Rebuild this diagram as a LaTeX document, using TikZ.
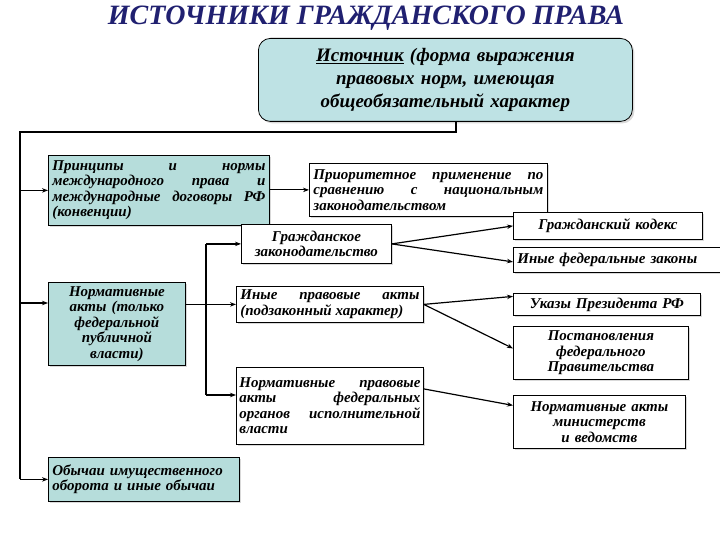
\documentclass[tikz,border=0pt]{standalone}
\usepackage{fontspec}
\setmainfont{Liberation Serif}
\usetikzlibrary{arrows.meta,shadows}
\definecolor{tealf}{RGB}{182,221,219}
\definecolor{tealtop}{RGB}{190,226,228}
\definecolor{navy}{RGB}{32,32,112}
\hyphenpenalty=10000
\exhyphenpenalty=10000
\begin{document}
\begin{tikzpicture}[x=1pt,y=-1pt,
  box/.style={draw=black, line width=0.8pt, anchor=north west, fill=white,
    inner xsep=4pt, inner ysep=2pt,
    font=\bfseries\itshape\fontsize{15}{15.5}\selectfont,
    drop shadow={shadow xshift=2pt,shadow yshift=-2pt,opacity=0.3}},
  tbox/.style={box, fill=tealf},
  arr/.style={line width=1.2pt, -{Stealth[length=6pt,width=4.5pt]}},
  ln/.style={line width=1.2pt}]
\useasboundingbox (0,0) rectangle (720,540);
% title
\node[text=navy, anchor=base, inner sep=0pt, font=\bfseries\itshape\fontsize{28}{30}\selectfont] (title) at (366,25)
  {ИСТОЧНИКИ ГРАЖДАНСКОГО ПРАВА};
% top box
\node[box, fill=tealtop, rounded corners=12pt, minimum width=374pt, minimum height=83pt,
  text width=366pt, align=center, font=\bfseries\itshape\fontsize{19}{23}\selectfont] (src) at (258,38)
  {\underline{Источник} (форма выражения\\правовых норм, имеющая\\общеобязательный характер};
% left column
\node[tbox, minimum width=221pt, minimum height=70pt, text width=213pt, align=justify] (P) at (48,155)
  {Принципы и нормы\linebreak международного права и\linebreak международные договоры РФ\linebreak (конвенции)};
\node[tbox, minimum width=137pt, minimum height=83pt, text width=129pt, align=center] (NA) at (48,282)
  {Нормативные\\акты (только\\федеральной\\публичной\\власти)};
\node[tbox, minimum width=191pt, minimum height=44pt, text width=183pt, align=left] (Ob) at (48,457)
  {Обычаи имущественного\\оборота и иные обычаи};
% middle column
\node[box, minimum width=238pt, minimum height=53pt, text width=230pt, align=justify] (Pri) at (309,163)
  {Приоритетное применение по\linebreak сравнению с национальным\linebreak законодательством};
\node[box, minimum width=150pt, minimum height=39pt, text width=142pt, align=center] (GZ) at (241,224)
  {Гражданское\\законодательство};
\node[box, minimum width=187pt, minimum height=36pt, text width=179pt, align=justify] (IPA) at (236,286)
  {Иные правовые акты\linebreak (подзаконный характер)};
\node[box, minimum width=187pt, minimum height=77pt, text width=181pt, inner xsep=3pt, align=justify] (NPA) at (236,367)
  {Нормативные правовые\linebreak акты федеральных\linebreak органов исполнительной\linebreak власти};
% right column
\node[box, minimum width=189pt, minimum height=27pt, text width=181pt, align=center] (GK) at (513,212)
  {Гражданский кодекс};
\node[box, minimum width=215pt, minimum height=25pt, text width=207pt, align=left] (IFZ) at (513,247)
  {Иные федеральные законы};
\node[box, minimum width=187pt, minimum height=22pt, text width=179pt, align=center] (UP) at (513,293)
  {Указы Президента РФ};
\node[box, minimum width=175pt, minimum height=53pt, text width=167pt, align=center] (PP) at (513,326)
  {Постановления\\федерального\\Правительства};
\node[box, minimum width=172pt, minimum height=53pt, text width=164pt, align=center] (NAM) at (513,395)
  {Нормативные акты\\министерств\\и ведомств};
% main rail
\coordinate (c1) at (456,132);
\coordinate (cL) at (20,132);
\coordinate (nA) at (20,303);
\draw[ln] (src.south -| c1) -- (c1) -- (cL) -- (cL |- Ob.west);
\draw[arr] (cL |- P.west) -- (P.west);
\draw[arr] (nA) -- (NA.west |- nA);
\draw[arr] (cL |- Ob.west) -- (Ob.west);
% second rail
\coordinate (r2) at (206,395);
\draw[ln] (r2 |- GZ.west) -- (r2);
\draw[arr] (r2 |- GZ.west) -- (GZ.west);
\draw[arr] (r2) -- (NPA.west |- r2);
\draw[arr] (NA.east |- IPA.west) -- (IPA.west);
\draw[arr] (Pri.west -| P.east) -- (Pri.west);
% fan-out arrows
\draw[arr] (GZ.east) -- (GK.west);
\draw[arr] (GZ.east) -- ([yshift=-2pt]IFZ.west);
\draw[arr] (IPA.east) -- ([yshift=8pt]UP.west);
\draw[arr] (IPA.east) -- ([yshift=4.5pt]PP.west);
\draw[arr] ([yshift=17pt]NPA.east) -- ([yshift=16.5pt]NAM.west);
\end{tikzpicture}
\end{document}
